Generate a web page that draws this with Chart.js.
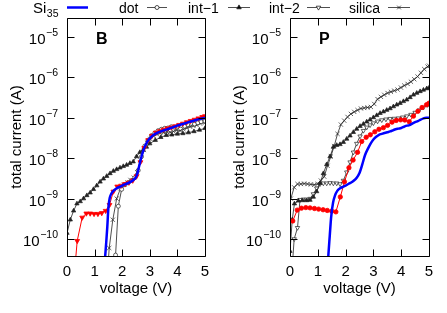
<!DOCTYPE html>
<html><head><meta charset="utf-8">
<style>
html,body{margin:0;padding:0;background:#fff;}
#wrap{position:relative;width:447px;height:313px;overflow:hidden;}
canvas{position:absolute;left:0;top:0;}
</style>
<script src="https://cdn.jsdelivr.net/npm/chart.js@4/dist/chart.umd.min.js"></script>
</head><body>
<div id="wrap"><canvas id="cB" width="447" height="313"></canvas><canvas id="cP" width="447" height="313"></canvas></div>
<script>
// ---- tick labels / names ----
const xTicks = [0, 1, 2, 3, 4, 5];
const yDecades = [-10, -9, -8, -7, -6, -5];
const seriesNames = ['dot', 'int\u22121', 'int\u22122', 'silica'];
const panelNames = ['B', 'P'];

// ---- panel B data ----
const B_si35_V = [1.33,1.38,1.42,1.46,1.5,1.55,1.6,1.7,1.8,1.9,2.0,2.1,2.2,2.3,2.4,2.5,2.55,2.6,2.65,2.7,2.8,2.9,3.0,3.1,3.2,3.4,3.6,3.8,4.0,4.2,4.4,4.6,4.8,5.0];
const B_si35_I = [1e-11,3.5e-11,8e-11,2e-10,6e-10,1.05e-9,1.3e-9,1.6e-9,1.8e-9,1.95e-9,2.1e-9,2.25e-9,2.4e-9,2.6e-9,2.9e-9,3.4e-9,4.2e-9,5.8e-9,8e-9,1.1e-8,1.8e-8,2.5e-8,3.1e-8,3.6e-8,4e-8,4.6e-8,5.1e-8,5.7e-8,6.4e-8,7e-8,7.8e-8,8.5e-8,9.3e-8,1e-7];
const B_dot_V = [1.72,1.76,1.86,1.98,2.1,2.22,2.34,2.46,2.58,2.7,2.82,2.94,3.06,3.18,3.3,3.42,3.54,3.66,3.78,3.9,4.02,4.14,4.26,4.38,4.5,4.62,4.74,4.86,5.0];
const B_dot_I = [1e-11,4e-11,6.5e-10,1.7e-9,2.2e-9,2.5e-9,2.8e-9,3.3e-9,5e-9,1.1e-8,2e-8,2.8e-8,3.6e-8,4.2e-8,4.8e-8,5.2e-8,5.5e-8,5.6e-8,6e-8,5.8e-8,6.2e-8,6.5e-8,6.2e-8,6.8e-8,7.3e-8,7e-8,7.5e-8,8e-8,8.3e-8];
const B_int1_V = [0,0.12,0.24,0.36,0.48,0.6,0.72,0.84,0.96,1.08,1.2,1.32,1.44,1.56,1.68,1.8,1.92,2.04,2.16,2.28,2.4,2.52,2.64,2.76,2.88,3.0,3.2,3.4,3.6,3.8,4.0,4.2,4.4,4.6,4.8,5.0];
const B_int1_I = [1.4e-10,3e-10,5e-10,7.5e-10,8.5e-10,1e-9,1.2e-9,1.4e-9,1.7e-9,2.1e-9,2.6e-9,3.1e-9,3.6e-9,4.2e-9,4.8e-9,5.3e-9,5.8e-9,6.3e-9,6.8e-9,7.5e-9,8.2e-9,1.1e-8,1.4e-8,1.6e-8,1.9e-8,2.3e-8,2.8e-8,3.3e-8,3.7e-8,3.8e-8,4e-8,4.1e-8,4.3e-8,4.6e-8,5e-8,5.5e-8];
const B_int2_V = [0.25,0.37,0.55,0.7,0.84,0.98,1.12,1.26,1.4,1.54,1.68,1.82,1.96,2.1,2.24,2.38,2.52,2.66,2.8,2.94,3.08,3.22,3.36,3.5,3.64,3.78,3.92,4.06,4.2,4.34,4.48,4.62,4.76,4.9,5.0];
const B_int2_I = [1e-11,9e-11,3.4e-10,4.3e-10,4.3e-10,4.2e-10,4.2e-10,4.4e-10,5e-10,7e-10,1.5e-9,2e-9,2.1e-9,2.3e-9,2.5e-9,2.8e-9,3.6e-9,8e-9,1.8e-8,2.8e-8,3.6e-8,4.3e-8,4.7e-8,5.1e-8,5.5e-8,5.8e-8,6.2e-8,6.7e-8,7.2e-8,7.8e-8,8.4e-8,9e-8,9.7e-8,1.05e-7,1.1e-7];
const B_silica_V = [1.45,1.53,1.66,1.8,1.94,2.06,2.18,2.3,2.42,2.54,2.66,2.78,2.9,3.02,3.14,3.26,3.38,3.5,3.62,3.74,3.86,3.98,4.1,4.22,4.34,4.46,4.58,4.7,4.82,5.0];
const B_silica_I = [1e-11,6e-11,3e-10,1e-9,1.8e-9,2.2e-9,2.5e-9,2.9e-9,3.3e-9,4.5e-9,9e-9,1.6e-8,2.4e-8,3e-8,3.5e-8,3.9e-8,4.2e-8,4.3e-8,4.5e-8,4.4e-8,4.6e-8,5e-8,4.8e-8,5.2e-8,5.6e-8,6e-8,6.3e-8,6.6e-8,7.2e-8,7.6e-8];

// ---- panel P data ----
const P_si35_V = [1.33,1.38,1.43,1.48,1.55,1.62,1.7,1.8,1.9,2.0,2.1,2.2,2.3,2.4,2.5,2.6,2.7,2.8,2.9,3.0,3.1,3.2,3.3,3.4,3.5,3.6,3.7,3.8,3.9,4.0,4.1,4.2,4.3,4.4,4.5,4.6,4.7,4.8,4.9,5.0];
const P_si35_I = [1e-11,4e-11,1.2e-10,3.5e-10,8e-10,1.2e-9,1.55e-9,1.8e-9,1.95e-9,2.1e-9,2.3e-9,2.5e-9,2.8e-9,3.3e-9,4.3e-9,7e-9,1.2e-8,1.7e-8,2.3e-8,2.9e-8,3.4e-8,3.8e-8,4e-8,4.2e-8,4.4e-8,4.6e-8,4.9e-8,5.2e-8,5.4e-8,5.6e-8,6e-8,6.4e-8,6.6e-8,7.2e-8,7.8e-8,8.3e-8,9e-8,9.7e-8,1e-7,1e-7];
const P_dot_V = [0.1,0.26,0.41,0.57,0.72,0.88,1.03,1.19,1.34,1.5,1.65,1.81,1.96,2.12,2.27,2.43,2.58,2.74,2.89,3.05,3.2,3.36,3.51,3.67,3.82,3.98,4.13,4.29,4.44,4.6,4.75,4.91,5.0];
const P_dot_I = [2.8e-10,5.2e-10,5.8e-10,6e-10,5.9e-10,5.7e-10,5.5e-10,5.3e-10,5.1e-10,4.9e-10,4.7e-10,1.1e-9,2.6e-9,5.8e-9,9e-9,1.4e-8,2.6e-8,3.3e-8,3.8e-8,4.5e-8,5.2e-8,5.7e-8,6.5e-8,7.8e-8,8.6e-8,8.9e-8,8.8e-8,8e-8,1.1e-7,1.45e-7,1.8e-7,2.1e-7,2.3e-7];
const P_int1_V = [0,0.08,0.16,0.3,0.45,0.6,0.72,0.84,0.96,1.08,1.2,1.32,1.44,1.56,1.68,1.8,1.92,2.04,2.16,2.28,2.4,2.52,2.64,2.76,2.88,3.0,3.12,3.24,3.36,3.48,3.6,3.72,3.84,3.96,4.08,4.2,4.32,4.44,4.56,4.68,4.8,4.92,5.0];
const P_int1_I = [5e-11,3e-10,7.5e-10,8.8e-10,9e-10,9e-10,9.2e-10,1.1e-9,1.5e-9,2.4e-9,4.2e-9,7e-9,1.1e-8,1.9e-8,2.1e-8,2.2e-8,2.5e-8,3e-8,3.6e-8,4.4e-8,5.3e-8,6.2e-8,7e-8,8e-8,9e-8,1.02e-7,1.15e-7,1.3e-7,1.42e-7,1.55e-7,1.7e-7,1.9e-7,2.1e-7,2.3e-7,2.55e-7,2.8e-7,3.2e-7,3.7e-7,4.1e-7,4.5e-7,4.9e-7,5.3e-7,5.5e-7];
const P_int2_V = [0.05,0.15,0.27,0.36,0.48,0.6,0.72,0.84,0.96,1.08,1.2,1.32,1.44,1.56,1.68,1.8,1.92,2.04,2.16,2.28,2.4,2.52,2.64,2.76,2.88,3.0,3.15,3.3,3.45,3.6,3.75,3.9,4.05,4.2,4.35,4.5,4.65,4.8,4.95,5.0];
const P_int2_I = [1e-11,1e-10,1.9e-10,9.4e-10,9.6e-10,9.6e-10,1e-9,1.3e-9,1.8e-9,2.3e-9,2.4e-9,2.4e-9,2.45e-9,2.4e-9,2.4e-9,2.3e-9,2.8e-9,4.5e-9,8e-9,1.4e-8,2.3e-8,3.5e-8,4.8e-8,5.8e-8,6.6e-8,7.4e-8,8.2e-8,8.8e-8,9.2e-8,9.5e-8,9.6e-8,9.8e-8,1.03e-7,1.1e-7,1.2e-7,1.35e-7,1.55e-7,1.8e-7,2.1e-7,2.2e-7];
const P_silica_V = [0.03,0.15,0.27,0.39,0.51,0.63,0.75,0.87,0.99,1.11,1.23,1.35,1.47,1.59,1.71,1.83,1.95,2.07,2.19,2.31,2.43,2.55,2.67,2.79,2.91,3.03,3.15,3.27,3.39,3.51,3.63,3.75,3.87,3.99,4.11,4.23,4.35,4.47,4.59,4.71,4.83,4.95,5.0];
const P_silica_I = [1e-9,1.9e-9,2.3e-9,2.3e-9,2.35e-9,2.3e-9,2.25e-9,2.2e-9,2.3e-9,2.8e-9,3.5e-9,6.5e-9,1.1e-8,2e-8,4e-8,6.8e-8,8.5e-8,1.05e-7,1.25e-7,1.4e-7,1.55e-7,1.7e-7,1.75e-7,1.8e-7,1.85e-7,2.2e-7,2.9e-7,3.3e-7,3.7e-7,4.1e-7,4.4e-7,4.7e-7,5e-7,5.6e-7,6.3e-7,6.9e-7,7.8e-7,9e-7,1.05e-6,1.3e-6,1.6e-6,1.85e-6,1.95e-6];

// ---- helpers ----
const FONT = '"Liberation Sans", Arial, Helvetica, sans-serif';
function pts(V, I) { const n = Math.min(V.length, I.length); const r = []; for (let i = 0; i < n; i++) r.push({x: V[i], y: I[i]}); return r; }

function blueSet(V, I) {
  return {data: pts(V, I), borderColor: '#0000ff', borderWidth: 2.5, pointRadius: 0, cubicInterpolationMode: 'monotone', order: 0};
}
function redSet(V, I, style, rot, r) {
  return {data: pts(V, I), borderColor: '#ff0000', borderWidth: 1, pointStyle: style, rotation: rot, pointRadius: r,
    pointBackgroundColor: '#ff0000', pointBorderColor: '#ff0000', pointBorderWidth: 0.8, order: 1};
}
function blackSet(V, I, style, rot, r, fill) {
  return {data: pts(V, I), borderColor: '#222', borderWidth: 0.8, pointStyle: style, rotation: rot, pointRadius: r,
    pointBackgroundColor: fill, pointBorderColor: '#222', pointBorderWidth: 0.7, order: 2};
}

function drawMarker(ctx, style, x, y, r, fill, stroke) {
  ctx.save();
  ctx.beginPath();
  if (style === 'circle') { ctx.arc(x, y, r, 0, Math.PI * 2); }
  else if (style === 'tri' || style === 'triDown') {
    const s = style === 'tri' ? 1 : -1;
    ctx.moveTo(x, y - s * r); ctx.lineTo(x - r * 0.866, y + s * r / 2); ctx.lineTo(x + r * 0.866, y + s * r / 2); ctx.closePath();
  } else if (style === 'x') {
    const d = r * 0.707; ctx.moveTo(x - d, y - d); ctx.lineTo(x + d, y + d); ctx.moveTo(x + d, y - d); ctx.lineTo(x - d, y + d);
  }
  if (fill && style !== 'x') { ctx.fillStyle = fill; ctx.fill(); }
  ctx.strokeStyle = stroke; ctx.lineWidth = 0.8; ctx.stroke();
  ctx.restore();
}

function panelPlugin(label) {
  return {
    id: 'panel' + label,
    afterDraw(chart) {
      const ctx = chart.ctx, a = chart.chartArea, xs = chart.scales.x, ys = chart.scales.y;
      ctx.save();
      ctx.strokeStyle = '#000'; ctx.lineWidth = 1;
      const L = Math.round(a.left) + 0.5, R = Math.round(a.right) + 0.5, T = Math.round(a.top) + 0.5, Bt = Math.round(a.bottom) + 0.5;
      ctx.beginPath();
      ctx.rect(L, T, R - L, Bt - T);
      xTicks.forEach(v => { const px = Math.round(xs.getPixelForValue(v)) + 0.5; ctx.moveTo(px, Bt); ctx.lineTo(px, Bt - 7); ctx.moveTo(px, T); ctx.lineTo(px, T + 7); });
      yDecades.forEach(e => { const py = Math.round(ys.getPixelForValue(Math.pow(10, e))) + 0.5; ctx.moveTo(L, py); ctx.lineTo(L + 7, py); ctx.moveTo(R, py); ctx.lineTo(R - 7, py); });
      ctx.stroke();
      // y tick labels 10^e
      ctx.fillStyle = '#000'; ctx.textBaseline = 'alphabetic'; ctx.textAlign = 'right';
      yDecades.forEach(e => {
        const py = ys.getPixelForValue(Math.pow(10, e));
        const xr = a.left - 9;
        const ex = '\u2212' + Math.abs(e);
        ctx.font = '10.5px ' + FONT;
        const w = ctx.measureText(ex).width;
        ctx.fillText(ex, xr, py - 1);
        ctx.font = '15px ' + FONT;
        ctx.fillText('10', xr - w - 0.5, py + 7);
      });
      // panel label
      ctx.textAlign = 'left'; ctx.textBaseline = 'alphabetic';
      ctx.font = 'bold 16px ' + FONT;
      ctx.fillText(label, a.left + 29, a.top + 25.5);
      ctx.restore();
    }
  };
}

const legendPlugin = {
  id: 'legendTop',
  afterDraw(chart) {
    const ctx = chart.ctx;
    ctx.save();
    ctx.fillStyle = '#000'; ctx.textAlign = 'left'; ctx.textBaseline = 'alphabetic';
    ctx.font = '15px ' + FONT;
    ctx.fillText('Si', 33, 13);
    const w = ctx.measureText('Si').width;
    ctx.font = '10.5px ' + FONT;
    ctx.fillText('35', 33 + w + 0.5, 17);
    ctx.strokeStyle = '#0000ff'; ctx.lineWidth = 2.5;
    ctx.beginPath(); ctx.moveTo(67, 7.5); ctx.lineTo(88, 7.5); ctx.stroke();
    const textX = [119, 188, 269, 349];
    const sample = [[147, 167], [228, 250], [307, 330], [388, 410]];
    const styles = [['circle', '#fff'], ['tri', '#000'], ['triDown', '#fff'], ['x', null]];
    ctx.font = '14px ' + FONT;
    seriesNames.forEach((n, i) => {
      ctx.fillStyle = '#000';
      ctx.fillText(n, textX[i], 13);
      ctx.strokeStyle = '#222'; ctx.lineWidth = 0.8;
      ctx.beginPath(); ctx.moveTo(sample[i][0], 7.5); ctx.lineTo(sample[i][1], 7.5); ctx.stroke();
      const cx = (sample[i][0] + sample[i][1]) / 2;
      drawMarker(ctx, styles[i][0], cx, 7.5, i === 0 ? 2 : 2.6, styles[i][1], '#222');
    });
    ctx.restore();
  }
};

function makeChart(id, datasets, label, padLeft, padRight, extra) {
  return new Chart(document.getElementById(id), {
    type: 'line',
    data: {datasets},
    options: {
      responsive: false, animation: false, devicePixelRatio: 1,
      layout: {padding: {left: padLeft, right: padRight, top: 18, bottom: 0}},
      plugins: {legend: {display: false}, tooltip: {enabled: false}},
      elements: {line: {tension: 0}},
      scales: {
        x: {type: 'linear', min: 0, max: 5,
          grid: {display: false, drawTicks: false}, border: {display: false},
          ticks: {stepSize: 1, padding: 7, color: '#000', maxRotation: 0, font: {family: FONT, size: 15}},
          title: {display: true, text: 'voltage (V)', color: '#000', font: {family: FONT, size: 15}, padding: {top: 0, bottom: 15}},
          afterFit(s) { s.height = 57; }},
        y: {type: 'logarithmic', min: 3.8e-11, max: 2.95e-5,
          grid: {display: false, drawTicks: false}, border: {display: false},
          ticks: {display: false},
          title: {display: true, text: 'total current (A)', color: '#000', font: {family: FONT, size: 15}, padding: {top: 8, bottom: 0}},
          afterFit(s) { s.width = 67; }}
      }
    },
    plugins: [panelPlugin(label)].concat(extra)
  });
}

makeChart('cB', [
  blueSet(B_si35_V, B_si35_I),
  redSet(B_int2_V, B_int2_I, 'triangle', 180, 2.8),
  blackSet(B_dot_V, B_dot_I, 'circle', 0, 2, '#fff'),
  blackSet(B_int1_V, B_int1_I, 'triangle', 0, 2.5, '#222'),
  blackSet(B_silica_V, B_silica_I, 'crossRot', 0, 3, '#222')
], panelNames[0], 0, 242, [legendPlugin]);

makeChart('cP', [
  blueSet(P_si35_V, P_si35_I),
  redSet(P_dot_V, P_dot_I, 'circle', 0, 2.2),
  blackSet(P_int1_V, P_int1_I, 'triangle', 0, 2.5, '#222'),
  blackSet(P_int2_V, P_int2_I, 'triangle', 180, 2.5, '#fff'),
  blackSet(P_silica_V, P_silica_I, 'crossRot', 0, 3, '#222')
], panelNames[1], 223, 18, []);
</script>
</body></html>
